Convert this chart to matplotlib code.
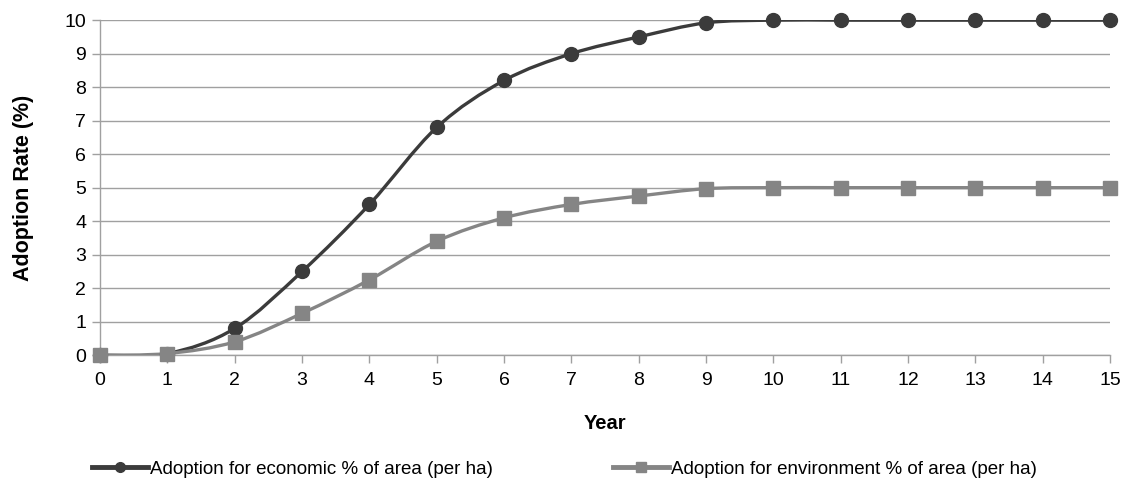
import matplotlib
matplotlib.use("Agg")
import matplotlib.pyplot as plt
from matplotlib.path import Path
from matplotlib.patches import PathPatch
from matplotlib.lines import Line2D


years = list(range(16))
economico = [0, 0.05, 0.8, 2.5, 4.5, 6.8, 8.2, 9.0, 9.5, 9.92, 10, 10, 10, 10, 10, 10]
ambiente = [0, 0.05, 0.4, 1.25, 2.25, 3.4, 4.1, 4.5, 4.75, 4.97, 5, 5, 5, 5, 5, 5]

nombre_eco = "Adoption for economic % of area (per ha)"
nombre_amb = "Adoption for environment % of area (per ha)"

color_eco = "#3b3b3b"
color_amb = "#858585"

plt.rcParams["font.family"] = ["Liberation Sans", "DejaVu Sans"]


def curva_suave(x, y):
    # misma idea que el "smoothed line" de excel: bezier tipo catmull-rom
    verts = [(x[0], y[0])]
    codes = [Path.MOVETO]
    n = len(x)
    for i in range(n - 1):
        i0 = max(i - 1, 0)
        i3 = min(i + 2, n - 1)
        c1 = (x[i] + (x[i + 1] - x[i0]) / 6, y[i] + (y[i + 1] - y[i0]) / 6)
        c2 = (x[i + 1] - (x[i3] - x[i]) / 6, y[i + 1] - (y[i3] - y[i]) / 6)
        verts += [c1, c2, (x[i + 1], y[i + 1])]
        codes += [Path.CURVE4] * 3
    return Path(verts, codes)


def dibujar_serie(ax, x, y, color, marker, ms):
    patch = PathPatch(curva_suave(x, y), facecolor="none", edgecolor=color,
                      lw=2.4, zorder=3, capstyle="round", joinstyle="round")
    ax.add_patch(patch)
    ax.plot(x, y, linestyle="none", marker=marker, color=color,
            markersize=ms, zorder=4, clip_on=False)


fig = plt.figure(figsize=(11.28, 4.8), dpi=100)
ax = fig.add_axes([0.0887, 0.26, 0.8955, 0.698])

dibujar_serie(ax, years, economico, color_eco, "o", 10)
dibujar_serie(ax, years, ambiente, color_amb, "s", 9.5)

ax.set_xlim(0, 15)
ax.set_ylim(0, 10)
ax.set_xticks(years)
ax.set_yticks(range(11))
ax.tick_params(axis="both", labelsize=14, colors="#000000")
ax.tick_params(axis="x", length=6, width=1, color="#a0a0a0", direction="out", pad=6)
ax.tick_params(axis="y", length=6, width=1, color="#a0a0a0", direction="out", pad=4)

ax.grid(axis="y", color="#a0a0a0", lw=1)
ax.set_axisbelow(True)
for lado in ["top", "right"]:
    ax.spines[lado].set_visible(False)
for lado in ["left", "bottom"]:
    ax.spines[lado].set_color("#a0a0a0")
    ax.spines[lado].set_linewidth(1)

ax.set_xlabel("Year", fontsize=14.5, fontweight="bold", labelpad=18)
ax.set_ylabel("Adoption Rate (%)", fontsize=15.5, fontweight="bold", labelpad=22)

handles = [
    Line2D([], [], color=color_eco, lw=3.5, marker="o", markersize=7),
    Line2D([], [], color=color_amb, lw=3.5, marker="s", markersize=7),
]
fig.legend(handles, [nombre_eco, nombre_amb], loc="lower center",
           bbox_to_anchor=(0.5, -0.03), ncol=2, frameon=False,
           columnspacing=6.4, handlelength=3.0, handletextpad=0.1,
           prop={"family": ["Liberation Sans"], "size": 13.5})

fig.savefig("out.png", dpi=100)
plt.close(fig)
